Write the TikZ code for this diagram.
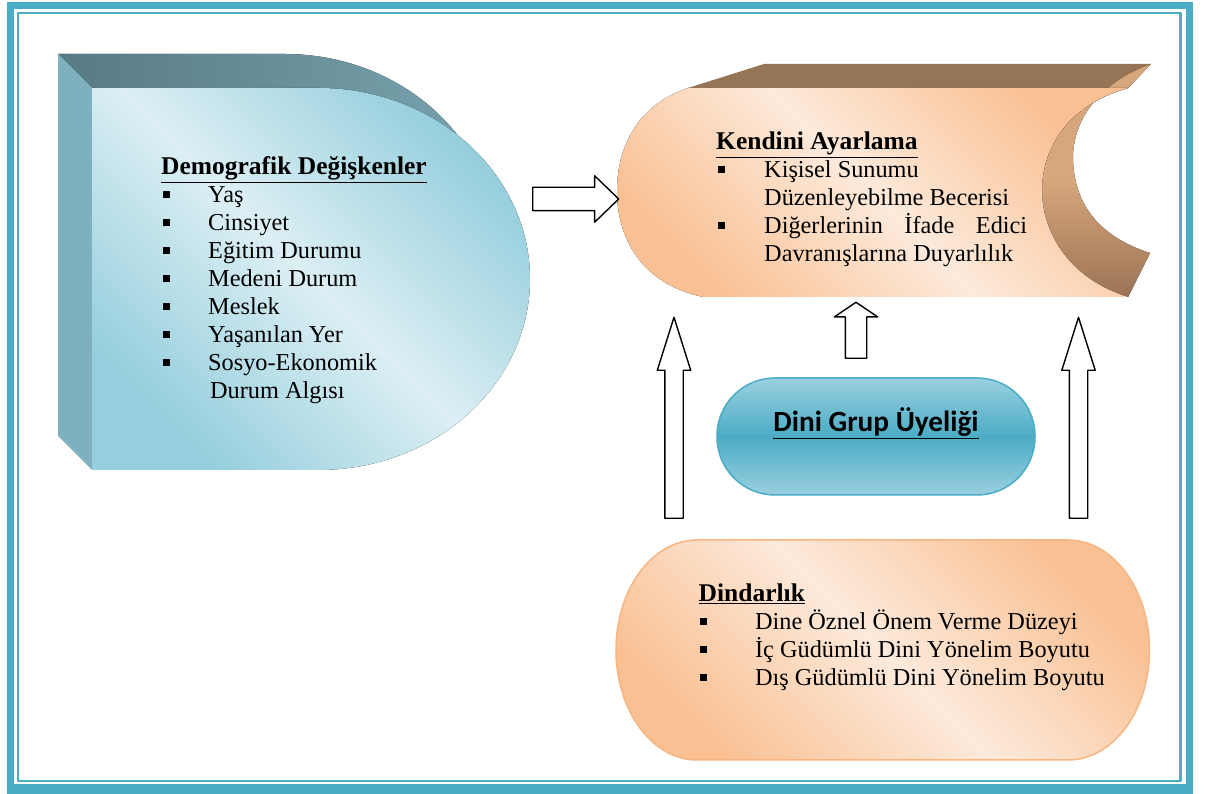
\documentclass[tikz,border=0pt]{standalone}
\usepackage{fontspec}
\setmainfont{Liberation Serif}
\newfontfamily\calibri{Carlito}
\usetikzlibrary{shapes.arrows}
\definecolor{cerceve}{HTML}{4BACC6}
\definecolor{maviAcik}{HTML}{DCEFF4}
\definecolor{maviKoyu}{HTML}{95CEDD}
\definecolor{maviUst}{HTML}{587A84}
\definecolor{maviUst2}{HTML}{78A4AF}
\definecolor{maviYan}{HTML}{7FB0BF}
\definecolor{turuncuAcik}{HTML}{FDEADB}
\definecolor{turuncu}{HTML}{F9C093}
\definecolor{turuncuCizgi}{HTML}{F7B582}
\definecolor{kahveUst}{HTML}{967456}
\definecolor{kahveAcik}{HTML}{D6A67C}
\definecolor{kahveKoyu}{HTML}{9C7455}
\definecolor{grupAcik}{HTML}{9AD0DF}
\newcommand{\bul}{\rule[5pt]{6.5pt}{6.5pt}}
\newcommand{\itm}[2]{\hspace*{#1}\bul\hspace*{#2}}
\newcommand{\baslik}[1]{{\fontsize{25.5}{28}\selectfont\underline{\textbf{#1}}}}
\begin{document}
\begin{tikzpicture}[
	x=1pt,y=1pt,
	line join=round,
	blockarrow/.style={single arrow,draw=black,line width=1.4pt,fill=white,anchor=tail},
	liste/.style={anchor=base west,align=left,inner sep=0pt,font=\fontsize{24.3}{28}\selectfont},
	]
	\useasboundingbox (0,0) rectangle (1211,794);
	% frame
	\fill[cerceve] (7,0) rectangle (1193,792);
	\fill[white] (14,10) rectangle (1186,785);
	\draw[cerceve,line width=2.2pt] (18,13) rectangle (1180.5,781);
	% demographic block
	\fill[left color=maviUst,right color=maviUst2]
		(58,740) -- (284.5,740) arc[start angle=90,end angle=-90,x radius=211.5pt,y radius=191pt] -- (58,358) -- cycle;
	\fill[maviYan] (58,740) -- (92,706) -- (92,324) -- (58,358) -- cycle;
	\fill[top color=maviKoyu,bottom color=maviKoyu,middle color=maviAcik,shading angle=-45]
		(92,706) -- (318.5,706) arc[start angle=90,end angle=-90,x radius=211.5pt,y radius=191pt] -- (92,324) -- cycle;
	\node[liste] (demo) at (161,395) {\baslik{Demografik Değişkenler}\\
		\itm{2pt}{38.5pt}Yaş\\
		\itm{2pt}{38.5pt}Cinsiyet\\
		\itm{2pt}{38.5pt}Eğitim Durumu\\
		\itm{2pt}{38.5pt}Medeni Durum\\
		\itm{2pt}{38.5pt}Meslek\\
		\itm{2pt}{38.5pt}Yaşanılan Yer\\
		\itm{2pt}{38.5pt}Sosyo-Ekonomik\\
		\hspace*{49pt}Durum Algısı};
	% self-monitoring block
	\fill[kahveUst] (688,706) -- (764,730) -- (1151,730) -- (1128,706) -- cycle;
	\fill[top color=kahveAcik,bottom color=kahveKoyu,middle color=kahveAcik]
		(1128,706) -- (1151,730) .. controls (1095,710) and (1073,670) .. (1073,637)
		.. controls (1073,600) and (1090,560) .. (1150,541) -- (1128,497)
		.. controls (1070,515) and (1042,560) .. (1042,604)
		.. controls (1042,648) and (1070,690) .. (1128,706) -- cycle;
	\fill[top color=turuncu,bottom color=turuncu,middle color=turuncuAcik,shading angle=-45]
		(1128,706) -- (688,706) .. controls (640,690) and (617,650) .. (617,603)
		.. controls (617,555) and (642,510) .. (703,497) -- (1128,497)
		.. controls (1070,515) and (1042,560) .. (1042,604)
		.. controls (1042,648) and (1070,690) .. (1128,706) -- cycle;
	\node[liste] (ayar) at (716,532) {\baslik{Kendini Ayarlama}\\
		\itm{2pt}{39.5pt}Kişisel Sunumu\\
		\hspace*{48pt}Düzenleyebilme Becerisi\\
		\itm{2pt}{39.5pt}\makebox[263pt][s]{Diğerlerinin İfade Edici}\\
		\hspace*{48pt}Davranışlarına Duyarlılık};
	% religiosity block
	\path[draw=turuncuCizgi,line width=1.5pt,top color=turuncu,bottom color=turuncu,middle color=turuncuAcik,shading angle=-45]
		(697,254) -- (1068,254) arc[start angle=90,end angle=-90,x radius=81.5pt,y radius=110pt]
		-- (697,34) arc[start angle=270,end angle=90,x radius=81pt,y radius=110pt] -- cycle;
	\node[liste] (dindar) at (698.5,108) {\baslik{Dindarlık}\\
		\itm{1.5pt}{48.4pt}Dine Öznel Önem Verme Düzeyi\\
		\itm{1.5pt}{48.4pt}İç Güdümlü Dini Yönelim Boyutu\\
		\itm{1.5pt}{48.4pt}Dış Güdümlü Dini Yönelim Boyutu};
	% group membership
	\node[draw=cerceve,line width=1.5pt,rounded corners=58pt,minimum width=318pt,minimum height=117pt,
		top color=grupAcik,bottom color=grupAcik,middle color=cerceve,
		text height=20pt,text depth=29pt,font=\calibri\bfseries\fontsize{29.3}{32}\selectfont]
		(grup) at (876,357.5) {\underline{Dini Grup Üyeliği}};
	% arrows
	\node[blockarrow,inner sep=11pt,minimum height=86pt,minimum width=45pt,single arrow head extend=11.5pt,single arrow tip angle=88] (okSag) at (532,595) {};
	\node[blockarrow,inner sep=8.5pt,rotate=90,minimum height=201pt,minimum width=32pt,single arrow head extend=7.5pt,single arrow tip angle=35] (okSol) at (674,275) {};
	\node[blockarrow,inner sep=8.5pt,rotate=90,minimum height=201pt,minimum width=32pt,single arrow head extend=7.5pt,single arrow tip angle=35] (okDin) at (1078.5,275) {};
	\node[blockarrow,inner sep=10pt,rotate=90,minimum height=56pt,minimum width=42pt,single arrow head extend=11pt,single arrow tip angle=112] (okOrta) at (856,435) {};
\end{tikzpicture}
\end{document}
